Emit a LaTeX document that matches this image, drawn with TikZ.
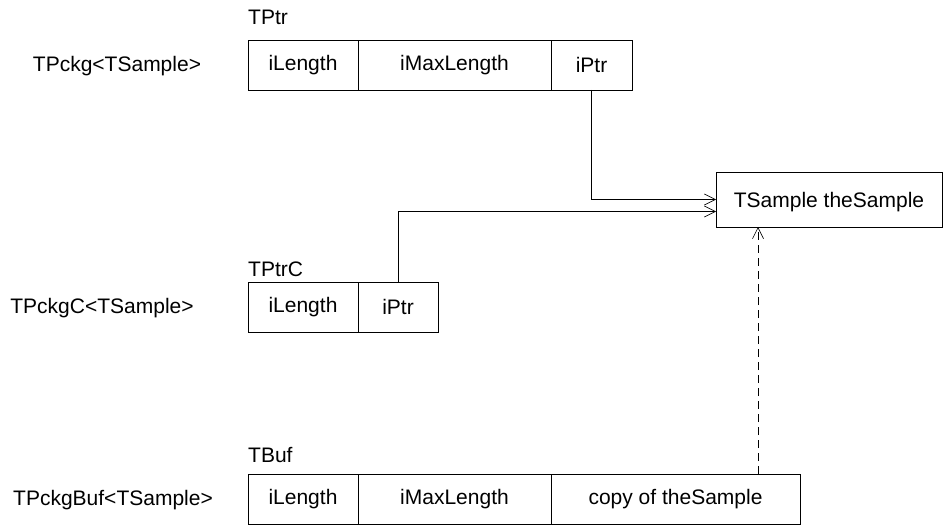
\documentclass[tikz,border=0pt]{standalone}
\usepackage{fontspec}
\setmainfont{Liberation Sans}
\usetikzlibrary{positioning, arrows.meta}

\begin{document}
\begin{tikzpicture}[x=1pt, y=-1pt, node distance = 0pt,
    font=\fontsize{21}{25}\selectfont,
    cell/.style={draw, rectangle, minimum height=50pt, inner sep=0pt, outer sep=0pt},
    title/.style={anchor=base west, inner sep=0pt},
    link/.style={-{Straight Barb[length=11pt, width=11pt]}, semithick}]
  \useasboundingbox (0,0) rectangle (952,526);
  % TPtr
  \node[cell, minimum width=110pt, anchor=north west] (ptr1) at (248,40) {iLength};
  \node[cell, minimum width=193pt] (ptr2) [right=of ptr1] {iMaxLength};
  \node[cell, minimum width=81pt] (ptr3) [right=of ptr2] {iPtr};
  \node[title] (ptrT) at (248,25) {TPtr};
  \node (pckg) at (117,66) {TPckg<TSample>};
  % TPtrC
  \node[cell, minimum width=110pt, anchor=north west] (ptrc1) at (248,282) {iLength};
  \node[cell, minimum width=80pt] (ptrc2) [right=of ptrc1] {iPtr};
  \node[title] (ptrcT) at (248,277) {TPtrC};
  \node (pckgc) at (102,308) {TPckgC<TSample>};
  % TBuf
  \node[cell, minimum width=110pt, anchor=north west] (buf1) at (248,474) {iLength};
  \node[cell, minimum width=193pt] (buf2) [right=of buf1] {iMaxLength};
  \node[cell, minimum width=249pt] (buf3) [right=of buf2] {copy of theSample};
  \node[title] (bufT) at (248,462) {TBuf};
  \node (pckgbuf) at (113,500) {TPckgBuf<TSample>};
  % the sample
  \node[cell, minimum width=226pt, minimum height=55pt, text depth=0pt, anchor=north west] (sample) at (716,172) {TSample theSample};
  \coordinate (copy) at (758,474);

  \draw[link] (ptr3.south) |- (sample.west);
  \draw[link] (ptrc2.north) |- ([yshift=-12pt]sample.west);
  \draw[link, dash pattern=on 8pt off 5pt] (copy) -- (copy |- sample.south);
\end{tikzpicture}
\end{document}
